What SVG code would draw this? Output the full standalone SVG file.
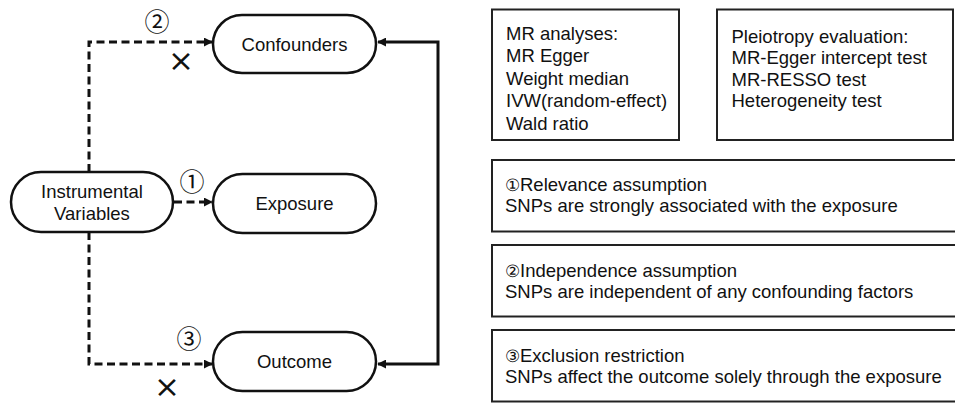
<svg xmlns="http://www.w3.org/2000/svg" width="955" height="403" viewBox="0 0 955 403">
<style>
.pill{fill:#fff;stroke:#111;stroke-width:2.5}
.box{fill:#fff;stroke:#222;stroke-width:2}
.t{font-family:"Liberation Sans",Arial,sans-serif;font-size:18.5px;fill:#111}
.c{text-anchor:middle}
.sm{font-size:16.5px}
.num{font-family:"Noto Sans CJK SC","DejaVu Sans",sans-serif;font-size:25px;fill:#111;text-anchor:middle}
.x{font-family:"DejaVu Sans",sans-serif;font-size:31px;fill:#111;text-anchor:middle}
.dash{fill:none;stroke:#111;stroke-width:3;stroke-dasharray:8 4.5}
.solid{fill:none;stroke:#111;stroke-width:3}
</style>
<defs>
<marker id="ah" viewBox="0 0 10 10" refX="9" refY="5" markerWidth="3" markerHeight="3" orient="auto" markerUnits="strokeWidth">
<path d="M0,0 L10,5 L0,10 Z" fill="#111"/>
</marker>
<marker id="ahs" viewBox="0 0 10 10" refX="9" refY="5" markerWidth="3" markerHeight="3" orient="auto-start-reverse" markerUnits="strokeWidth">
<path d="M0,0 L10,5 L0,10 Z" fill="#111"/>
</marker>
</defs>
<rect width="955" height="403" fill="#fff"/>

<g id="connectors">
<path class="dash" d="M89,172 V42 H212" marker-end="url(#ah)"/>
<path class="dash" d="M174,202 H212" marker-end="url(#ah)"/>
<path class="dash" d="M89,232 V364 H212" marker-end="url(#ah)"/>
<path class="solid" d="M378,42 H438 V364 H378" marker-start="url(#ahs)" marker-end="url(#ahs)"/>
<text class="num" x="157" y="31">②</text>
<text class="num" x="192" y="191">①</text>
<text class="num" x="189" y="348">③</text>
<text class="x" x="181" y="71">×</text>
<text class="x" x="167" y="397">×</text>
</g>

<g id="node-iv">
<rect class="pill" x="11" y="172" width="162" height="60" rx="30"/>
<text class="t c" x="92" y="197.5">Instrumental</text>
<text class="t c" x="92" y="219.5">Variables</text>
</g>
<g id="node-confounders">
<rect class="pill" x="213" y="15" width="163" height="58" rx="29"/>
<text class="t c" x="294.5" y="50.5">Confounders</text>
</g>
<g id="node-exposure">
<rect class="pill" x="213" y="174" width="163" height="59" rx="29.5"/>
<text class="t c" x="294.5" y="209.5">Exposure</text>
</g>
<g id="node-outcome">
<rect class="pill" x="213" y="332" width="163" height="59" rx="29.5"/>
<text class="t c" x="294.5" y="367.5">Outcome</text>
</g>

<g id="box-mr">
<rect class="box" x="492" y="9.5" width="187" height="130.5"/>
<text class="t" x="506" y="39.5">MR analyses:</text>
<text class="t" x="506" y="62">MR Egger</text>
<text class="t" x="506" y="84.5">Weight median</text>
<text class="t" x="506" y="107">IVW(random-effect)</text>
<text class="t" x="506" y="129.5">Wald ratio</text>
</g>
<g id="box-pleiotropy">
<rect class="box" x="717" y="9.5" width="236" height="130.5"/>
<text class="t" x="731.5" y="42.5">Pleiotropy evaluation:</text>
<text class="t" x="731.5" y="64">MR-Egger intercept test</text>
<text class="t" x="731.5" y="85.5">MR-RESSO test</text>
<text class="t" x="731.5" y="107">Heterogeneity test</text>
</g>
<g id="box-relevance">
<rect class="box" x="492" y="160" width="480" height="71.5"/>
<text class="t" x="505" y="191"><tspan class="sm">①</tspan>Relevance assumption</text>
<text class="t" x="505" y="212">SNPs are strongly associated with the exposure</text>
</g>
<g id="box-independence">
<rect class="box" x="492" y="245" width="480" height="71.5"/>
<text class="t" x="505" y="276.5"><tspan class="sm">②</tspan>Independence assumption</text>
<text class="t" x="505" y="297.5">SNPs are independent of any confounding factors</text>
</g>
<g id="box-exclusion">
<rect class="box" x="492" y="330" width="480" height="71.5"/>
<text class="t" x="505" y="362"><tspan class="sm">③</tspan>Exclusion restriction</text>
<text class="t" x="505" y="382.5">SNPs affect the outcome solely through the exposure</text>
</g>
</svg>
